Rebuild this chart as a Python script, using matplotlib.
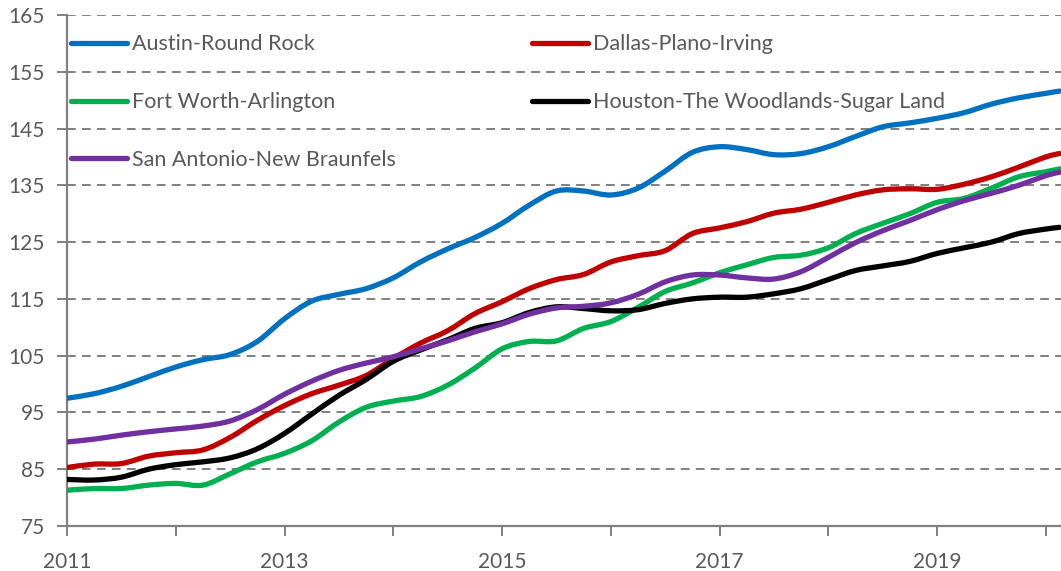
import matplotlib
matplotlib.use("Agg")
import matplotlib.pyplot as plt
from matplotlib.path import Path
from matplotlib.patches import PathPatch
from matplotlib.lines import Line2D
import numpy as np

# Quarterly time axis (decimal years), last point Feb 2020
dates = [2011.0, 2011.25, 2011.5, 2011.75, 2012.0, 2012.25, 2012.5, 2012.75,
         2013.0, 2013.25, 2013.5, 2013.75, 2014.0, 2014.25, 2014.5, 2014.75,
         2015.0, 2015.25, 2015.5, 2015.75, 2016.0, 2016.25, 2016.5, 2016.75,
         2017.0, 2017.25, 2017.5, 2017.75, 2018.0, 2018.25, 2018.5, 2018.75,
         2019.0, 2019.25, 2019.5, 2019.75, 2020.0, 2020.125]

austin = [97.5, 98.3, 99.6, 101.3, 103.0, 104.3, 105.2, 107.5,
          111.5, 114.6, 115.8, 116.8, 118.7, 121.5, 123.8, 125.8,
          128.3, 131.5, 134.0, 134.0, 133.3, 134.5, 137.5, 140.8,
          141.8, 141.3, 140.4, 140.6, 141.8, 143.6, 145.3, 146.0,
          146.8, 147.8, 149.3, 150.4, 151.2, 151.6]

dallas = [85.3, 85.9, 86.0, 87.3, 87.9, 88.4, 90.6, 93.6,
          96.2, 98.3, 99.8, 101.5, 104.5, 107.2, 109.4, 112.4,
          114.5, 116.8, 118.4, 119.3, 121.5, 122.6, 123.5, 126.5,
          127.5, 128.6, 130.1, 130.8, 132.0, 133.3, 134.2, 134.4,
          134.3, 135.2, 136.5, 138.2, 140.0, 140.6]

fort_worth = [81.3, 81.6, 81.6, 82.2, 82.5, 82.2, 84.2, 86.3,
              87.8, 90.0, 93.3, 95.9, 97.0, 97.8, 99.8, 102.8,
              106.2, 107.5, 107.6, 109.8, 111.0, 113.5, 116.3, 117.8,
              119.6, 121.0, 122.3, 122.7, 124.0, 126.5, 128.3, 130.0,
              132.0, 132.7, 134.5, 136.5, 137.4, 137.9]

houston = [83.2, 83.1, 83.6, 85.0, 85.8, 86.3, 87.0, 88.6,
           91.3, 94.7, 98.0, 100.8, 104.0, 106.0, 107.8, 109.8,
           110.8, 112.6, 113.6, 113.3, 112.9, 113.1, 114.2, 115.0,
           115.3, 115.3, 115.9, 116.8, 118.4, 120.0, 120.8, 121.6,
           123.0, 124.0, 125.0, 126.5, 127.3, 127.6]

san_antonio = [89.8, 90.3, 91.0, 91.6, 92.1, 92.6, 93.5, 95.5,
               98.2, 100.5, 102.4, 103.7, 104.8, 106.2, 107.6, 109.2,
               110.6, 112.3, 113.4, 113.7, 114.3, 115.8, 118.0, 119.2,
               119.2, 118.7, 118.5, 119.8, 122.3, 124.9, 127.0, 128.8,
               130.7, 132.3, 133.6, 135.0, 136.7, 137.3]

series_names = ["Austin-Round Rock", "Dallas-Plano-Irving", "Fort Worth-Arlington",
                "Houston-The Woodlands-Sugar Land", "San Antonio-New Braunfels"]
series_values = [austin, dallas, fort_worth, houston, san_antonio]
series_colors = ["#0070C0", "#C00000", "#00B050", "#000000", "#7030A0"]

y_ticks = [75, 85, 95, 105, 115, 125, 135, 145, 155, 165]
x_ticks = list(range(2011, 2021))
x_labels = [str(y) if y % 2 == 1 else "" for y in x_ticks]

plt.rcParams["font.family"] = ["Lato", "DejaVu Sans"]


def smooth_path(xs, ys):
    """Smoothed line through the points (cubic Bezier, Catmull-Rom style)."""
    p = np.column_stack([xs, ys]).astype(float)
    n = len(p)
    verts = [p[0]]
    codes = [Path.MOVETO]
    for i in range(n - 1):
        p0 = p[i - 1] if i > 0 else p[i]
        p1, p2 = p[i], p[i + 1]
        p3 = p[i + 2] if i + 2 < n else p[i + 1]
        c1 = p1 + (p2 - p0) / 6.0
        c2 = p2 - (p3 - p1) / 6.0
        verts += [c1, c2, p2]
        codes += [Path.CURVE4] * 3
    return Path(verts, codes)


W, H = 1061, 571
fig = plt.figure(figsize=(W / 100, H / 100), dpi=100)
ax = fig.add_axes([67 / W, 1 - 526 / H, (W - 67) / W, (526 - 15) / H])

LW = 3.8
handles = {}
for name, vals, col in zip(series_names, series_values, series_colors):
    patch = PathPatch(smooth_path(dates, vals), facecolor="none", edgecolor=col,
                      lw=LW, joinstyle="round", capstyle="round", zorder=3)
    ax.add_patch(patch)
    handles[name] = Line2D([], [], color=col, lw=LW, solid_capstyle="round")

ax.set_xlim(2011, 2020.14)
ax.set_ylim(75, 165)
ax.set_yticks(y_ticks)
ax.set_xticks(x_ticks)
ax.set_xticklabels(x_labels)

grid_col = "#808080"
for yv in y_ticks[1:]:
    ax.axhline(yv, color=grid_col, lw=1.4, ls=(0, (4.5, 3.2)), zorder=0)

for side in ["top", "right"]:
    ax.spines[side].set_visible(False)
for side in ["left", "bottom"]:
    ax.spines[side].set_color(grid_col)
    ax.spines[side].set_linewidth(1.6)

ax.tick_params(axis="both", colors=grid_col, labelcolor="#595959",
               labelsize=15, width=1.4, length=7, direction="out")
ax.tick_params(axis="x", pad=12)
ax.tick_params(axis="y", pad=9)

order = ["Austin-Round Rock", "Fort Worth-Arlington", "San Antonio-New Braunfels",
         "Dallas-Plano-Irving", "Houston-The Woodlands-Sugar Land"]
leg = ax.legend([handles[n] for n in order], order, ncol=2, loc="upper left",
                bbox_to_anchor=(0.004, 0.962), frameon=False, fontsize=15.5,
                handlelength=2.6, handletextpad=0.25, columnspacing=6.3,
                labelspacing=1.75, borderpad=0, borderaxespad=0)
for t in leg.get_texts():
    t.set_color("#595959")

fig.savefig("out.png", dpi=100)
